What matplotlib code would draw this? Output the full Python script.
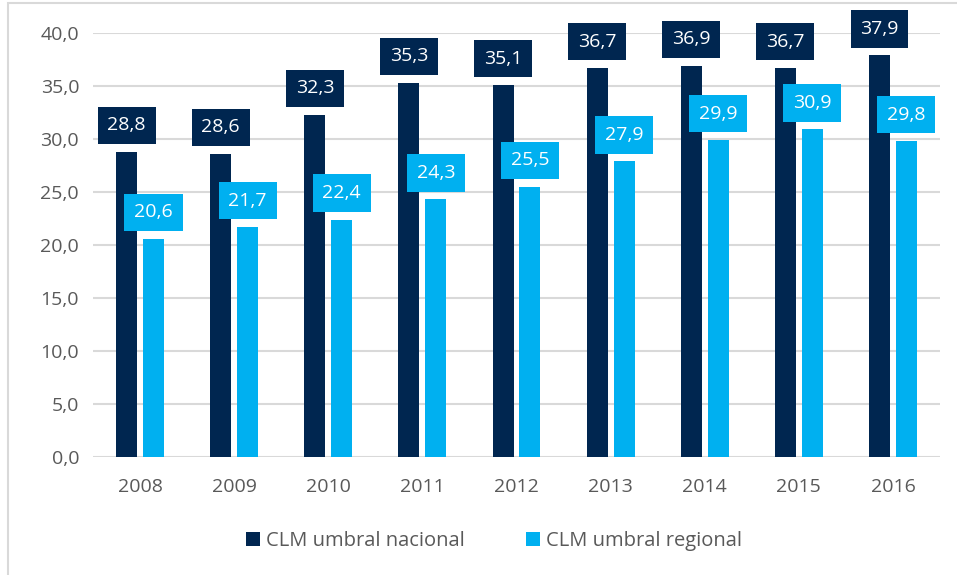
import numpy as np
import matplotlib
matplotlib.use('Agg')
from matplotlib import pyplot as plt
from matplotlib.patches import Rectangle


# =============================================================================
# Data
# =============================================================================
years = ['2008', '2009', '2010', '2011', '2012', '2013', '2014', '2015', '2016']
nacional = [28.8, 28.6, 32.3, 35.3, 35.1, 36.7, 36.9, 36.7, 37.9]
regional = [20.6, 21.7, 22.4, 24.3, 25.5, 27.9, 29.9, 30.9, 29.8]
series_names = ['CLM umbral nacional', 'CLM umbral regional']


# =============================================================================
# Plot parameters
# =============================================================================
matplotlib.rcParams['font.family'] = ['Open Sans', 'DejaVu Sans']
navy = '#002650'
blue = '#00b0f0'
grey_text = '#595959'
grid_col = '#d9d9d9'

def fmt(v):
    return f'{v:.1f}'.replace('.', ',')


# =============================================================================
# Plot
# =============================================================================
fig = plt.figure(figsize=(9.57, 5.75), dpi=100)
ax = fig.add_axes([93/957, 1 - 457/575, (940 - 93)/957, (457 - 33)/575])

x = np.arange(len(years))
width = 0.223
off = 0.143
ax.bar(x - off, nacional, width, color=navy, label=series_names[0], zorder=3)
ax.bar(x + off, regional, width, color=blue, label=series_names[1], zorder=3)

# Value labels in boxes
for vals, xs, col in [(nacional, x - off, navy), (regional, x + off, blue)]:
    for xi, v in zip(xs, vals):
        ax.annotate(fmt(v), (xi, v), xytext=(0, 12.5), textcoords='offset points',
            ha='center', va='bottom', color='white', fontsize=14, zorder=4,
            bbox=dict(boxstyle='square,pad=0.5', fc=col, ec='none'))

# Axes
ax.set_xlim(-0.5, len(years) - 0.5)
ax.set_ylim(0, 40)
ax.set_yticks(np.arange(0, 41, 5))
ax.set_yticklabels([fmt(t) for t in np.arange(0, 41, 5)])
ax.set_xticks(x)
ax.set_xticklabels(years)
ax.tick_params(length=0, labelsize=14, colors=grey_text, pad=10)
ax.tick_params(axis='x', pad=15)
ax.yaxis.grid(True, color=grid_col, linewidth=1.5, zorder=0)
ax.set_axisbelow(True)
for s in ax.spines.values():
    s.set_visible(False)

# Legend
fig.legend(loc='center', bbox_to_anchor=(494/957, 1 - 541/575), ncol=2,
    frameon=False, fontsize=14.5, labelcolor=grey_text, handlelength=0.7,
    handleheight=0.7, handletextpad=0.3, columnspacing=3)

# Outer border
fig.patches.append(Rectangle((8/957, -0.05), 1.2, 1.05 - 3/575,
    transform=fig.transFigure, fill=False, ec=grid_col, lw=1.5))

fig.savefig('out.png', dpi=100)
plt.close()
